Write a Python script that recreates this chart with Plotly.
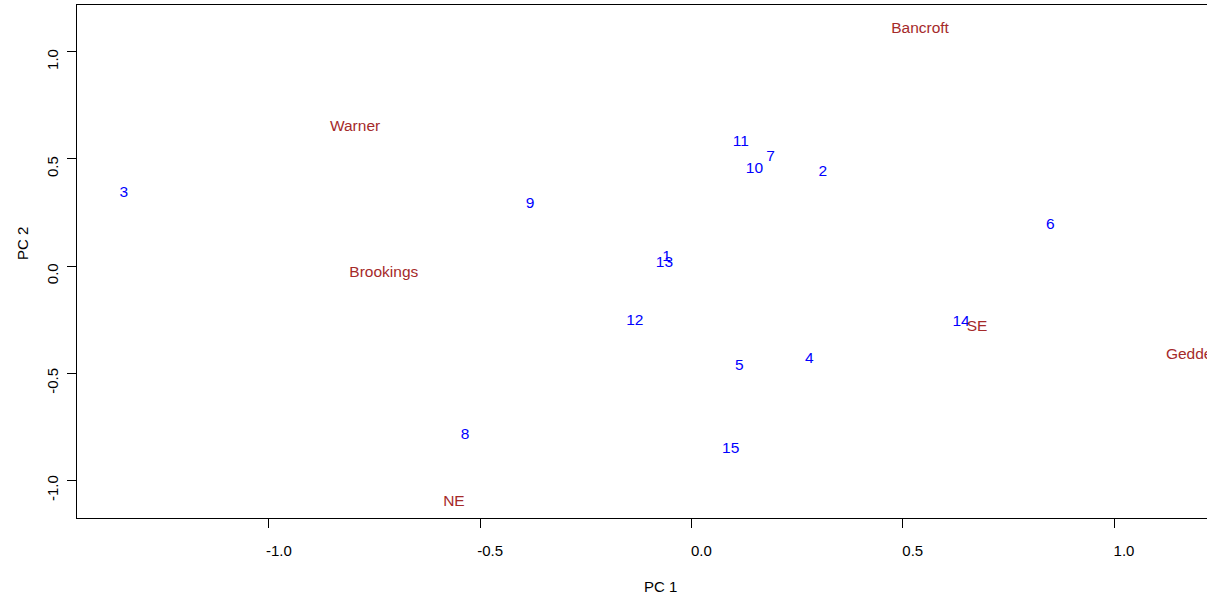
import plotly.graph_objects as go

# Observations (blue)
obs_labels = ["1", "2", "3", "4", "5", "6", "7", "8", "9", "10", "11", "12", "13", "14", "15"]
obs_pc1 = [-0.059, 0.311, -1.343, 0.279, 0.113, 0.849, 0.187, -0.536, -0.382, 0.149, 0.117, -0.134, -0.064, 0.638, 0.093]
obs_pc2 = [0.040, 0.438, 0.341, -0.434, -0.469, 0.192, 0.506, -0.788, 0.290, 0.453, 0.580, -0.256, 0.013, -0.261, -0.854]

# Variables (brown)
var_labels = ["Bancroft", "Warner", "Brookings", "NE", "SE", "Geddes"]
var_pc1 = [0.541, -0.796, -0.728, -0.562, 0.676, 1.187]
var_pc2 = [1.107, 0.650, -0.032, -1.101, -0.284, -0.415]

x_ticks = [-1.0, -0.5, 0.0, 0.5, 1.0]
y_ticks = [-1.0, -0.5, 0.0, 0.5, 1.0]

FONT = "Liberation Sans, Arial, sans-serif"
FS_TEXT = 15.5
FS_AX = 15

fig = go.Figure()
fig.add_trace(go.Scatter(
    x=obs_pc1, y=obs_pc2, text=obs_labels, mode="text",
    textposition="middle center",
    textfont=dict(family=FONT, size=FS_TEXT, color="#0000FF"),
    hoverinfo="skip", showlegend=False, cliponaxis=False))
fig.add_trace(go.Scatter(
    x=var_pc1, y=var_pc2, text=var_labels, mode="text",
    textposition="middle center",
    textfont=dict(family=FONT, size=FS_TEXT, color="#A52A2A"),
    hoverinfo="skip", showlegend=False, cliponaxis=False))

fig.update_layout(
    width=1207, height=596,
    margin=dict(l=77, r=0, t=5, b=78),
    plot_bgcolor="white", paper_bgcolor="white",
    font=dict(family=FONT, size=FS_AX, color="black"),
    xaxis=dict(range=[-1.454, 1.220], tickvals=x_ticks,
               ticktext=[f"{v:.1f}" for v in x_ticks],
               showgrid=False, zeroline=False, showline=True, linecolor="black",
               linewidth=1, mirror=True, ticks="outside", ticklen=9, tickcolor="black",
               ticklabelshift=10, ticklabelstandoff=10,
               tickfont=dict(family=FONT, size=FS_AX, color="black")),
    yaxis=dict(range=[-1.176, 1.218], tickvals=y_ticks,
               ticktext=[f"{v:.1f}" for v in y_ticks],
               showgrid=False, zeroline=False, showline=True, linecolor="black",
               linewidth=1, ticks="outside", ticklen=9, tickcolor="black",
               tickangle=-90, ticklabelshift=10, ticklabelstandoff=3,
               tickfont=dict(family=FONT, size=FS_AX, color="black")),
    annotations=[
        dict(text="PC 1", xref="paper", yref="paper", x=(660 - 77) / 1130, y=-(586 - 518) / 513,
             showarrow=False, xanchor="center", yanchor="middle",
             font=dict(family=FONT, size=FS_AX, color="black")),
        dict(text="PC 2", xref="paper", yref="paper", x=-(77 - 22) / 1130, y=(518 - 244) / 513,
             showarrow=False, xanchor="center", yanchor="middle", textangle=-90,
             font=dict(family=FONT, size=FS_AX, color="black")),
    ],
)

fig.write_html("out.html", config={"displayModeBar": False},
               post_script="document.body.style.margin='0px'; document.body.style.overflow='hidden';")
